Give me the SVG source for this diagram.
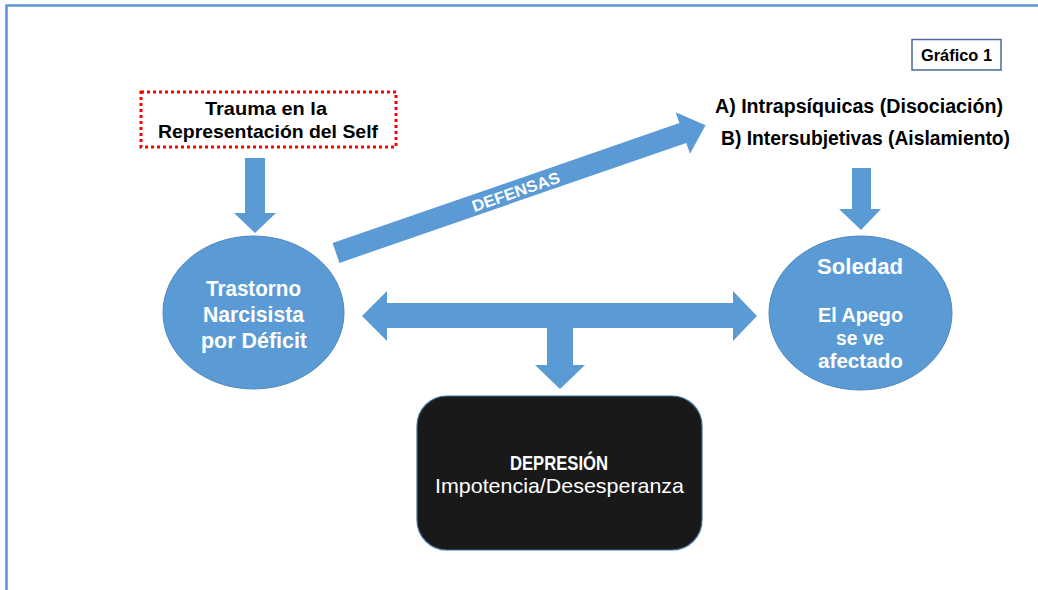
<svg xmlns="http://www.w3.org/2000/svg" width="1038" height="590" viewBox="0 0 1038 590">
  <style>
    .blue { fill: #5b9bd5; }
    .node { fill: #5b9bd5; stroke: #4f87bd; stroke-width: 1; }
    .t { font-family: "Liberation Sans", Arial, sans-serif; font-weight: bold; text-anchor: middle; }
    .w { fill: #ffffff; }
    .k { fill: #000000; }
  </style>
  <rect x="0" y="0" width="1038" height="590" fill="#ffffff"/>
  <rect id="frame" x="6.5" y="5.5" width="1060" height="620" fill="none" stroke="#5f92d6" stroke-width="2.5"/>

  <g id="connectors">
    <path class="blue" d="M245,158 L265,158 L265,213 L276,213 L255,233 L234,213 L245,213 Z"/>
    <path class="blue" d="M852,168 L871,168 L871,209 L881,209 L861,230 L839,209 L852,209 Z"/>
    <g transform="translate(336,253) rotate(-19.08)">
      <path class="blue" d="M0,-10.5 L367,-10.5 L367,-22 L391,0 L367,22 L367,10.5 L0,10.5 Z"/>
      <text class="t w" x="190" y="6.5" font-size="16" textLength="92" lengthAdjust="spacingAndGlyphs">DEFENSAS</text>
    </g>
    <path class="blue" d="M362,316 L387,291 L387,303 L733,303 L733,291 L757,316 L733,341 L733,328 L573,328 L573,365 L585,365 L560,389 L535,365 L547,365 L547,328 L387,328 L387,341 Z"/>
  </g>

  <g id="grafico">
    <rect x="912" y="39.5" width="89" height="30.5" fill="#ffffff" stroke="#4a6a9a" stroke-width="1.5"/>
    <text class="t k" x="956.5" y="61" font-size="17" textLength="71" lengthAdjust="spacingAndGlyphs">Gráfico 1</text>
  </g>

  <g id="trauma">
    <rect x="141" y="92" width="255" height="55" fill="#ffffff" stroke="#ff0000" stroke-width="3" stroke-dasharray="3 3"/>
    <text class="t k" x="266" y="115" font-size="19" textLength="122" lengthAdjust="spacingAndGlyphs">Trauma en la</text>
    <text class="t k" x="268" y="138" font-size="19" textLength="220" lengthAdjust="spacingAndGlyphs">Representación del Self</text>
  </g>

  <g id="defensas-text">
    <text class="t k" x="859" y="113" font-size="19.5" textLength="288" lengthAdjust="spacingAndGlyphs">A) Intrapsíquicas (Disociación)</text>
    <text class="t k" x="865.5" y="145" font-size="19.5" textLength="289" lengthAdjust="spacingAndGlyphs">B) Intersubjetivas (Aislamiento)</text>
  </g>

  <g id="trastorno">
    <ellipse class="node" cx="253.5" cy="312.5" rx="90.5" ry="76.5"/>
    <text class="t w" x="253.5" y="296" font-size="22" textLength="95" lengthAdjust="spacingAndGlyphs">Trastorno</text>
    <text class="t w" x="253.5" y="322" font-size="22" textLength="101" lengthAdjust="spacingAndGlyphs">Narcisista</text>
    <text class="t w" x="254" y="348" font-size="22" textLength="106" lengthAdjust="spacingAndGlyphs">por Déficit</text>
  </g>

  <g id="soledad">
    <ellipse class="node" cx="860.5" cy="313" rx="91.5" ry="77"/>
    <text class="t w" x="860" y="274" font-size="22" textLength="86" lengthAdjust="spacingAndGlyphs">Soledad</text>
    <text class="t w" x="860.5" y="322" font-size="20" textLength="85" lengthAdjust="spacingAndGlyphs">El Apego</text>
    <text class="t w" x="860" y="345" font-size="20" textLength="48" lengthAdjust="spacingAndGlyphs">se ve</text>
    <text class="t w" x="860.5" y="368" font-size="20" textLength="85" lengthAdjust="spacingAndGlyphs">afectado</text>
  </g>

  <g id="depresion">
    <rect x="417" y="396" width="285" height="154" rx="30" ry="30" fill="#191919" stroke="#41719c" stroke-width="1.2"/>
    <text class="t w" x="559" y="470" font-size="20" textLength="98" lengthAdjust="spacingAndGlyphs">DEPRESIÓN</text>
    <text class="t w" x="559.5" y="493" font-size="21" style="font-weight:normal" textLength="249" lengthAdjust="spacingAndGlyphs">Impotencia/Desesperanza</text>
  </g>
</svg>
